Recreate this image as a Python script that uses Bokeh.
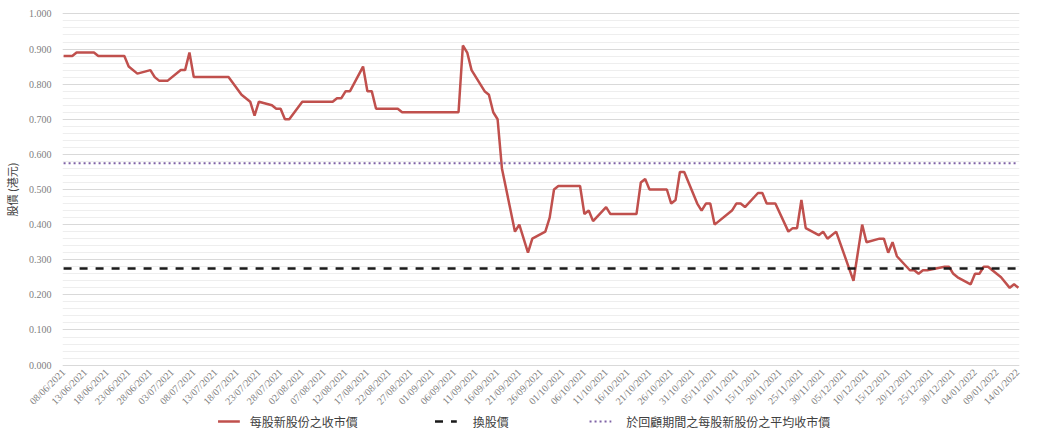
import math
import pandas as pd
from bokeh.plotting import figure
from bokeh.layouts import column
from bokeh.models import (Range1d, FixedTicker, NumeralTickFormatter,
                          DatetimeTickFormatter)
from bokeh.core.properties import value
from bokeh.embed import file_html
from bokeh.resources import INLINE

# ---------------- data ----------------
dates = [
    "2021-06-08", "2021-06-10", "2021-06-11", "2021-06-15", "2021-06-16", "2021-06-22",
    "2021-06-23", "2021-06-25", "2021-06-28", "2021-06-29", "2021-06-30", "2021-07-02",
    "2021-07-05", "2021-07-06", "2021-07-07", "2021-07-08", "2021-07-16", "2021-07-19",
    "2021-07-21", "2021-07-22", "2021-07-23", "2021-07-26", "2021-07-27", "2021-07-28",
    "2021-07-29", "2021-07-30", "2021-08-02", "2021-08-09", "2021-08-10", "2021-08-11",
    "2021-08-12", "2021-08-13", "2021-08-16", "2021-08-17", "2021-08-18", "2021-08-19",
    "2021-08-24", "2021-08-25", "2021-09-07", "2021-09-08", "2021-09-09", "2021-09-10",
    "2021-09-13", "2021-09-14", "2021-09-15", "2021-09-16", "2021-09-17", "2021-09-20",
    "2021-09-21", "2021-09-23", "2021-09-24", "2021-09-27", "2021-09-28", "2021-09-29",
    "2021-09-30", "2021-10-05", "2021-10-06", "2021-10-07", "2021-10-08", "2021-10-11",
    "2021-10-12", "2021-10-18", "2021-10-19", "2021-10-20", "2021-10-21", "2021-10-25",
    "2021-10-26", "2021-10-27", "2021-10-28", "2021-10-29", "2021-11-01", "2021-11-02",
    "2021-11-03", "2021-11-04", "2021-11-05", "2021-11-09", "2021-11-10", "2021-11-11",
    "2021-11-12", "2021-11-15", "2021-11-16", "2021-11-17", "2021-11-19", "2021-11-22",
    "2021-11-23", "2021-11-24", "2021-11-25", "2021-11-26", "2021-11-29", "2021-11-30",
    "2021-12-01", "2021-12-03", "2021-12-07", "2021-12-09", "2021-12-10", "2021-12-13",
    "2021-12-14", "2021-12-15", "2021-12-16", "2021-12-17", "2021-12-20", "2021-12-21",
    "2021-12-22", "2021-12-23", "2021-12-24", "2021-12-28", "2021-12-29", "2021-12-30",
    "2021-12-31", "2022-01-03", "2022-01-04", "2022-01-05", "2022-01-06", "2022-01-07",
    "2022-01-10", "2022-01-12", "2022-01-13", "2022-01-14",
]
closing_prices = [
    0.88, 0.88, 0.89, 0.89, 0.88, 0.88,
    0.85, 0.83, 0.84, 0.82, 0.81, 0.81,
    0.84, 0.84, 0.89, 0.82, 0.82, 0.77,
    0.75, 0.71, 0.75, 0.74, 0.73, 0.73,
    0.70, 0.70, 0.75, 0.75, 0.76, 0.76,
    0.78, 0.78, 0.85, 0.78, 0.78, 0.73,
    0.73, 0.72, 0.72, 0.91, 0.89, 0.84,
    0.78, 0.77, 0.72, 0.70, 0.56, 0.38,
    0.40, 0.32, 0.36, 0.38, 0.42, 0.50,
    0.51, 0.51, 0.43, 0.44, 0.41, 0.45,
    0.43, 0.43, 0.52, 0.53, 0.50, 0.50,
    0.46, 0.47, 0.55, 0.55, 0.46, 0.44,
    0.46, 0.46, 0.40, 0.44, 0.46, 0.46,
    0.45, 0.49, 0.49, 0.46, 0.46, 0.38,
    0.39, 0.39, 0.47, 0.39, 0.37, 0.38,
    0.36, 0.38, 0.24, 0.40, 0.35, 0.36,
    0.36, 0.32, 0.35, 0.31, 0.27, 0.27,
    0.26, 0.27, 0.27, 0.28, 0.28, 0.26,
    0.25, 0.23, 0.26, 0.26, 0.28, 0.28,
    0.25, 0.22, 0.23, 0.22,
]
conversion_price = 0.275
average_closing_price = 0.575

series_names = ["每股新股份之收市價", "換股價", "於回顧期間之每股新股份之平均收市價"]
series_colors = ["#c0504d", "#1a1a1a", "#7f63a6"]
series_dashes = ["solid", "8 8", "2 3"]
series_widths = [2.5, 2.5, 2]
y_axis_title = "股價 (港元)"

x_tick_start = "2021-06-08"
x_tick_end = "2022-01-14"
x_tick_step = "5D"
y_major_ticks = [0.0, 0.1, 0.2, 0.3, 0.4, 0.5, 0.6, 0.7, 0.8, 0.9, 1.0]
y_minor_ticks = [round(0.02 * i, 2) for i in range(51)]

FIG_W = 1021
BORDER_L, BORDER_R = 53, 2
FRAME_W = FIG_W - BORDER_L - BORDER_R

# ---------------- main chart ----------------
x = pd.to_datetime(dates)
x_first, x_last = x[0], x[-1]

p = figure(width=FIG_W, height=413, x_axis_type="datetime",
           output_backend="svg", toolbar_location=None,
           x_range=Range1d(x_first - pd.Timedelta(hours=6), x_last + pd.Timedelta(hours=6)),
           y_range=Range1d(-0.004, 1.004),
           min_border_left=BORDER_L, min_border_right=BORDER_R,
           min_border_top=12, min_border_bottom=40)
p.outline_line_color = None
p.background_fill_color = "white"
p.border_fill_color = "white"

p.line(x, closing_prices, line_color=series_colors[0], line_width=series_widths[0])
p.line([x_first, x_last], [conversion_price, conversion_price],
       line_color=series_colors[1], line_width=series_widths[1], line_dash=series_dashes[1])
p.line([x_first, x_last], [average_closing_price, average_closing_price],
       line_color=series_colors[2], line_width=series_widths[2], line_dash=series_dashes[2])

# grid
p.xgrid.visible = False
p.ygrid.grid_line_color = "#d9d9d9"
p.ygrid.grid_line_width = 1
p.ygrid.minor_grid_line_color = "#eeeeee"
p.ygrid.minor_grid_line_width = 1

# y axis
yt = FixedTicker(ticks=y_major_ticks, minor_ticks=y_minor_ticks)
p.yaxis.ticker = yt
p.ygrid.ticker = yt
p.yaxis.formatter = NumeralTickFormatter(format="0.000")
p.yaxis.axis_line_color = None
p.yaxis.major_tick_line_color = None
p.yaxis.minor_tick_line_color = None
p.yaxis.major_tick_out = 0
p.yaxis.minor_tick_out = 0
p.yaxis.major_label_text_font = "Liberation Serif"
p.yaxis.major_label_text_font_size = "10px"
p.yaxis.major_label_text_color = "#808080"
p.yaxis.major_label_standoff = 11
p.yaxis.axis_label = y_axis_title
p.yaxis.axis_label_text_font = "Noto Sans CJK TC"
p.yaxis.axis_label_text_font_size = "11px"
p.yaxis.axis_label_text_font_style = "normal"
p.yaxis.axis_label_text_color = "#404040"
p.yaxis.axis_label_standoff = 6

# x axis
tick_dates = pd.date_range(x_tick_start, x_tick_end, freq=x_tick_step)
p.xaxis.ticker = FixedTicker(ticks=[t.timestamp() * 1000 for t in tick_dates])
fmt = "%d/%m/%Y"
p.xaxis.formatter = DatetimeTickFormatter(days=fmt, months=fmt, years=fmt, hours=fmt,
                                          hourmin=fmt, minutes=fmt, minsec=fmt,
                                          seconds=fmt, milliseconds=fmt, microseconds=fmt)
p.xaxis.major_label_orientation = math.pi / 4
p.xaxis.axis_line_color = None
p.xaxis.major_tick_line_color = None
p.xaxis.minor_tick_line_color = None
p.xaxis.major_tick_out = 0
p.xaxis.minor_tick_out = 0
p.xaxis.major_label_text_font = "Liberation Serif"
p.xaxis.major_label_text_font_size = "10px"
p.xaxis.major_label_text_color = "#808080"
p.xaxis.major_label_standoff = 4

# ---------------- legend strip (frame aligned with the chart frame) ----------------
LH = 16
lg = figure(width=FIG_W, height=LH, output_backend="svg", toolbar_location=None,
            x_range=Range1d(0, FRAME_W), y_range=Range1d(0, LH),
            x_axis_location=None, y_axis_location=None,
            min_border_left=BORDER_L, min_border_right=BORDER_R,
            min_border_top=0, min_border_bottom=0)
lg.grid.visible = False
lg.outline_line_color = None
lg.border_fill_color = "white"

legend_glyph_x = [157, 376, 532]
legend_text_x = [189, 414, 569]
glyph_len = 22
ly = LH / 2
for i, name in enumerate(series_names):
    x0 = legend_glyph_x[i]
    lg.line([x0, x0 + glyph_len], [ly, ly], line_color=series_colors[i],
            line_width=series_widths[i], line_dash=series_dashes[i])
    lg.text([legend_text_x[i]], [ly], text=[name],
            text_font=value("Noto Sans CJK TC"), text_font_size="12px",
            text_color="#404040", text_baseline="middle", text_align="left")

layout = column(p, lg, spacing=0)
open("out.html", "w").write(file_html(layout, INLINE))
